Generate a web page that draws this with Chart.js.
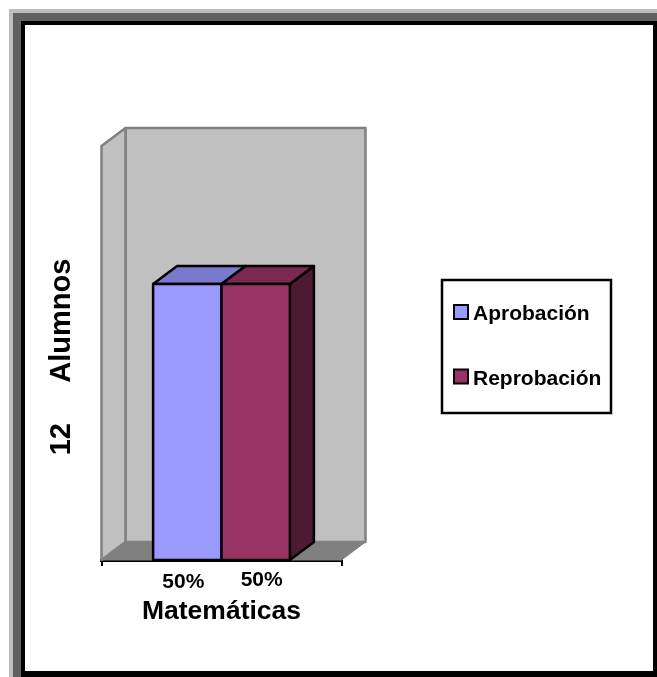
<!DOCTYPE html>
<html lang="es">
<head>
<meta charset="utf-8">
<title>Matemáticas</title>
<script src="https://cdn.jsdelivr.net/npm/chart.js@4"></script>
<style>
  html, body { margin: 0; padding: 0; background: #fff; }
  body { width: 657px; height: 677px; position: relative; overflow: hidden; }
  .f1, .f2, .f3 { box-sizing: border-box; position: absolute; }
  .f1 { left: 9px; top: 9px; right: 0; bottom: 0; border-left: 4px solid #bdbdbd; border-top: 4px solid #bdbdbd; }
  .f2 { left: 0; top: 0; right: 0; bottom: 0; border-left: 8px solid #606060; border-top: 8px solid #606060; }
  .f3 { left: 0; top: 0; right: 0; bottom: 0; border: 4px solid #000; border-bottom-width: 6px; }
  canvas { position: absolute; left: 0; top: 0; }
</style>
</head>
<body>
<div class="f1"><div class="f2"><div class="f3"></div></div></div>
<canvas id="chart" width="657" height="677"></canvas>
<script>
// Datos
const categories = ['Matemáticas'];
const seriesNames = ['Aprobación', 'Reprobación'];
const seriesValues = [[6], [6]];
const percentLabels = ['50%', '50%'];
const yAxisTitle = '12     Alumnos ';
const yMax = 9;

const FONT = '"Liberation Sans", Arial, sans-serif';
const colors = ['#9999ff', '#993366'];
const topColors = ['#7a7acc', '#7a2952'];
const sideColors = ['#4d4d80', '#4d1a33'];
const DX = 24, DY = -18;

function poly(ctx, pts, fill, stroke, lw) {
    ctx.beginPath();
    pts.forEach((p, i) => i ? ctx.lineTo(p[0], p[1]) : ctx.moveTo(p[0], p[1]));
    ctx.closePath();
    ctx.fillStyle = fill;
    ctx.fill();
    if (stroke) {
        ctx.strokeStyle = stroke;
        ctx.lineWidth = lw;
        ctx.lineJoin = 'round';
        ctx.stroke();
    }
}

// Paredes y piso del efecto 3D
const wallsPlugin = {
    id: 'walls',
    beforeDatasetsDraw(chart) {
        const { ctx, chartArea: a } = chart;
        ctx.save();
        poly(ctx, [[a.left + DX, a.top + DY], [a.right + DX, a.top + DY], [a.right + DX, a.bottom + DY], [a.left + DX, a.bottom + DY]], '#c0c0c0', '#808080', 2.5);
        poly(ctx, [[a.left, a.top], [a.left + DX, a.top + DY], [a.left + DX, a.bottom + DY], [a.left, a.bottom]], '#c0c0c0', '#808080', 2.5);
        poly(ctx, [[a.left, a.bottom], [a.left + DX, a.bottom + DY], [a.right + DX, a.bottom + DY], [a.right, a.bottom]], '#808080', '#808080', 1);
        ctx.restore();
    }
};

// Caras de las barras, porcentajes y leyenda
const barsPlugin = {
    id: 'bars3d',
    afterDatasetsDraw(chart) {
        const { ctx } = chart;
        ctx.save();
        chart.data.datasets.forEach((ds, i) => {
            const b = chart.getDatasetMeta(i).data[0];
            const l = b.x - b.width / 2, r = b.x + b.width / 2;
            poly(ctx, [[r, b.y], [r + DX, b.y + DY], [r + DX, b.base + DY], [r, b.base]], sideColors[i], '#000', 2.5);
            poly(ctx, [[l, b.y], [l + DX, b.y + DY], [r + DX, b.y + DY], [r, b.y]], topColors[i], '#000', 2.5);
            poly(ctx, [[l, b.y], [r, b.y], [r, b.base], [l, b.base]], colors[i], '#000', 2.5);
        });
        ctx.fillStyle = '#000';
        ctx.font = 'bold 21px ' + FONT;
        ctx.textAlign = 'center';
        ctx.textBaseline = 'alphabetic';
        const shift = [[-4, 28], [6, 26]];
        percentLabels.forEach((t, i) => {
            const b = chart.getDatasetMeta(i).data[0];
            ctx.fillText(t, b.x + shift[i][0], b.base + shift[i][1]);
        });
        ctx.restore();
    },
    afterDraw(chart) {
        const { ctx } = chart;
        ctx.save();
        ctx.strokeStyle = '#000';
        ctx.lineWidth = 2.5;
        ctx.fillStyle = '#fff';
        ctx.fillRect(442, 280, 169, 133);
        ctx.strokeRect(442, 280, 169, 133);
        ctx.font = 'bold 21px ' + FONT;
        ctx.textAlign = 'left';
        ctx.textBaseline = 'alphabetic';
        chart.data.datasets.forEach((ds, i) => {
            const y = 305 + i * 64.5;
            ctx.fillStyle = colors[i];
            ctx.fillRect(454, y, 14, 14);
            ctx.lineWidth = 2;
            ctx.strokeRect(454, y, 14, 14);
            ctx.fillStyle = '#000';
            ctx.fillText(ds.label, 473, y + 15);
        });
        ctx.restore();
    }
};

new Chart(document.getElementById('chart'), {
    type: 'bar',
    data: {
        labels: categories,
        datasets: seriesNames.map((name, i) => ({
            label: name,
            data: seriesValues[i],
            backgroundColor: colors[i],
            borderWidth: 0
        }))
    },
    plugins: [wallsPlugin, barsPlugin],
    options: {
        responsive: false,
        animation: false,
        categoryPercentage: 0.57,
        barPercentage: 1,
        layout: { padding: { left: 45, right: 315.5, top: 146, bottom: 49 } },
        plugins: { legend: { display: false }, tooltip: { enabled: false } },
        scales: {
            x: {
                offset: true,
                ticks: { display: false },
                afterFit(s) { s.height = 68; },
                grid: { drawOnChartArea: false, color: '#000', tickLength: 6, lineWidth: 2 },
                border: { color: '#000', width: 3 },
                title: { display: true, text: categories[0], color: '#000', font: { family: FONT, size: 26.5, weight: 'bold' }, padding: { top: 0, bottom: 0 } }
            },
            y: {
                min: 0,
                max: yMax,
                ticks: { display: false },
                afterFit(s) { s.width = 56.5; },
                grid: { display: false },
                border: { display: false },
                title: { display: true, text: yAxisTitle, color: '#000', font: { family: FONT, size: 29, weight: 'bold' }, padding: { top: 0, bottom: 0 } }
            }
        }
    }
});
</script>
</body>
</html>
